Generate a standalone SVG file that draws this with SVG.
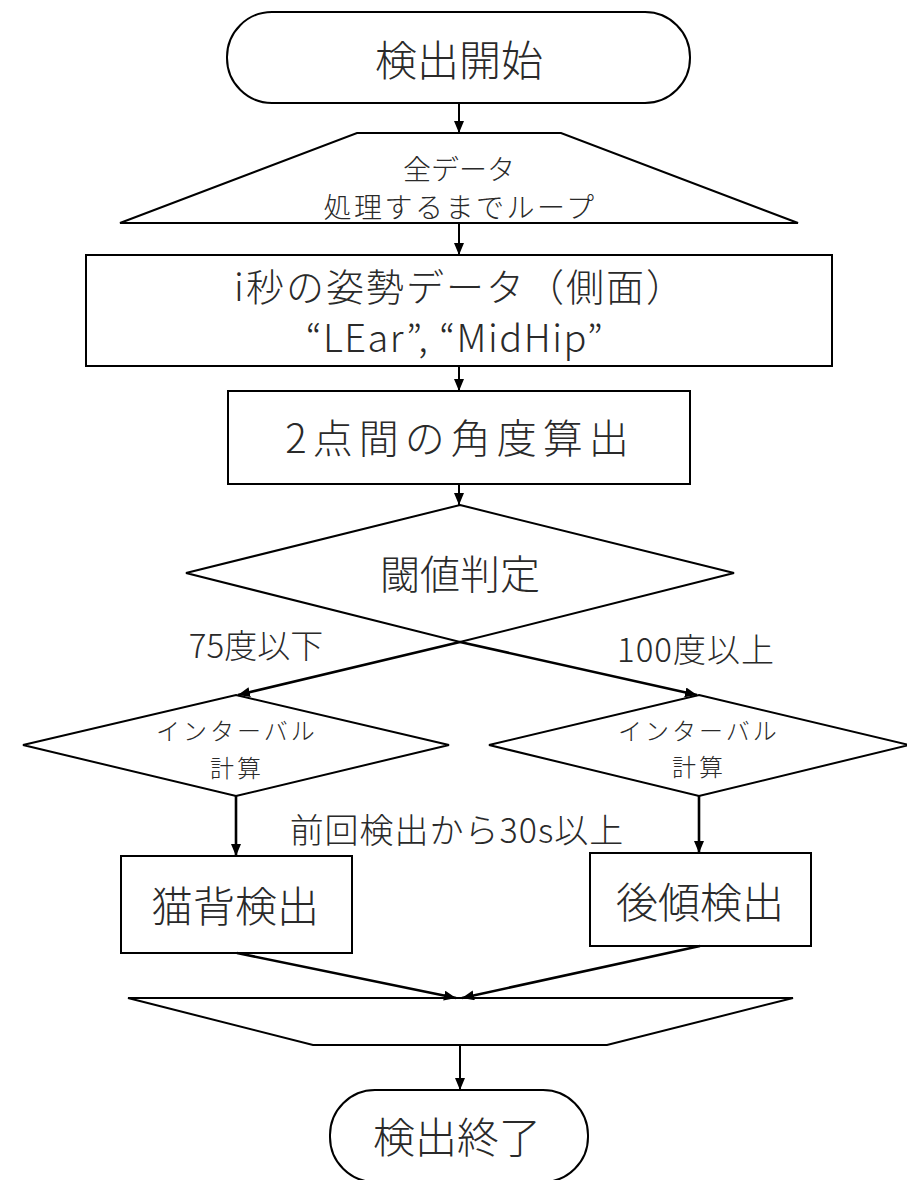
<svg xmlns="http://www.w3.org/2000/svg" width="907" height="1180" viewBox="0 0 907 1180">
  <defs>
    <marker id="arr" markerUnits="userSpaceOnUse" markerWidth="14" markerHeight="12" refX="12" refY="5" orient="auto">
      <path d="M0,0 L12,5 L0,10 Z" fill="#000"/>
    </marker>
    <style>
      .shape { fill: #fff; stroke: #000; stroke-width: 2; }
      .t { font-family: "Noto Sans CJK JP", "Noto Sans", sans-serif; font-weight: 300; fill: #2a2a2a; text-anchor: middle; dominant-baseline: central; }
      .conn { stroke: #000; stroke-width: 2; fill: none; marker-end: url(#arr); }
      .conn2 { stroke: #000; stroke-width: 2.6; fill: none; marker-end: url(#arr); }
    </style>
  </defs>
  <rect width="907" height="1180" fill="#fff"/>

  <g id="start">
    <rect class="shape" x="227" y="12" width="463" height="91" rx="45" ry="45"/>
    <text class="t" x="459" y="57" font-size="42">検出開始</text>
  </g>

  <g id="loop-start">
    <polygon class="shape" points="357,133 561,133 798,223 120,223"/>
    <text class="t" x="459" y="168" font-size="28">全データ</text>
    <text class="t" x="460" y="206" font-size="28" letter-spacing="2.5">処理するまでループ</text>
  </g>

  <g id="pose-data">
    <rect class="shape" x="86" y="255" width="746" height="111"/>
    <text class="t" x="460" y="284" font-size="38" letter-spacing="2">i秒の姿勢データ（側面）</text>
    <text class="t" x="455" y="335" font-size="38" font-family="Noto Sans, sans-serif" letter-spacing="1.5">“LEar”, “MidHip”</text>
  </g>

  <g id="angle">
    <rect class="shape" x="228" y="391" width="462" height="93"/>
    <text class="t" x="460" y="436" font-size="40" letter-spacing="6">2点間の角度算出</text>
  </g>

  <g id="threshold">
    <polygon class="shape" points="460,505 734,573 460,642 186,573"/>
    <text class="t" x="460" y="572" font-size="40">閾値判定</text>
  </g>

  <g id="labels">
    <text class="t" x="256" y="644" font-size="33">75度以下</text>
    <text class="t" x="696" y="648" font-size="33" letter-spacing="1">100度以上</text>
    <text class="t" x="457" y="828" font-size="34" letter-spacing="1">前回検出から30s以上</text>
  </g>

  <g id="interval-left">
    <polygon class="shape" points="236,695 449,745 236,796 23,745"/>
    <text class="t" x="237" y="729" font-size="24" letter-spacing="3">インターバル</text>
    <text class="t" x="237" y="766" font-size="24" letter-spacing="3">計算</text>
  </g>

  <g id="interval-right">
    <polygon class="shape" points="699,695 909,745 699,796 489,745"/>
    <text class="t" x="699" y="729" font-size="24" letter-spacing="3">インターバル</text>
    <text class="t" x="699" y="765" font-size="24" letter-spacing="3">計算</text>
  </g>

  <g id="nekoze">
    <rect class="shape" x="121" y="856" width="231" height="97"/>
    <text class="t" x="235" y="903" font-size="42">猫背検出</text>
  </g>

  <g id="koukei">
    <rect class="shape" x="590" y="853" width="221" height="93"/>
    <text class="t" x="700" y="899" font-size="42">後傾検出</text>
  </g>

  <g id="loop-end">
    <polygon class="shape" points="128,998 793,998 607,1045 313,1045"/>
  </g>

  <g id="end">
    <rect class="shape" x="330" y="1090" width="258" height="92" rx="45" ry="45"/>
    <text class="t" x="457" y="1134" font-size="42">検出終了</text>
  </g>

  <g id="connectors">
    <line class="conn" x1="459" y1="103" x2="459" y2="133"/>
    <line class="conn" x1="459" y1="223" x2="459" y2="255"/>
    <line class="conn" x1="459" y1="366" x2="459" y2="391"/>
    <line class="conn" x1="459" y1="484" x2="459" y2="505"/>
    <line class="conn2" x1="460" y1="642" x2="238" y2="695"/>
    <line class="conn2" x1="460" y1="642" x2="697" y2="695"/>
    <line class="conn2" x1="236" y1="796" x2="236" y2="856"/>
    <line class="conn2" x1="699" y1="796" x2="699" y2="853"/>
    <line class="conn2" x1="237" y1="953" x2="456" y2="998"/>
    <line class="conn2" x1="700" y1="946" x2="462" y2="998"/>
    <line class="conn" x1="460" y1="1045" x2="460" y2="1090"/>
  </g>
</svg>
